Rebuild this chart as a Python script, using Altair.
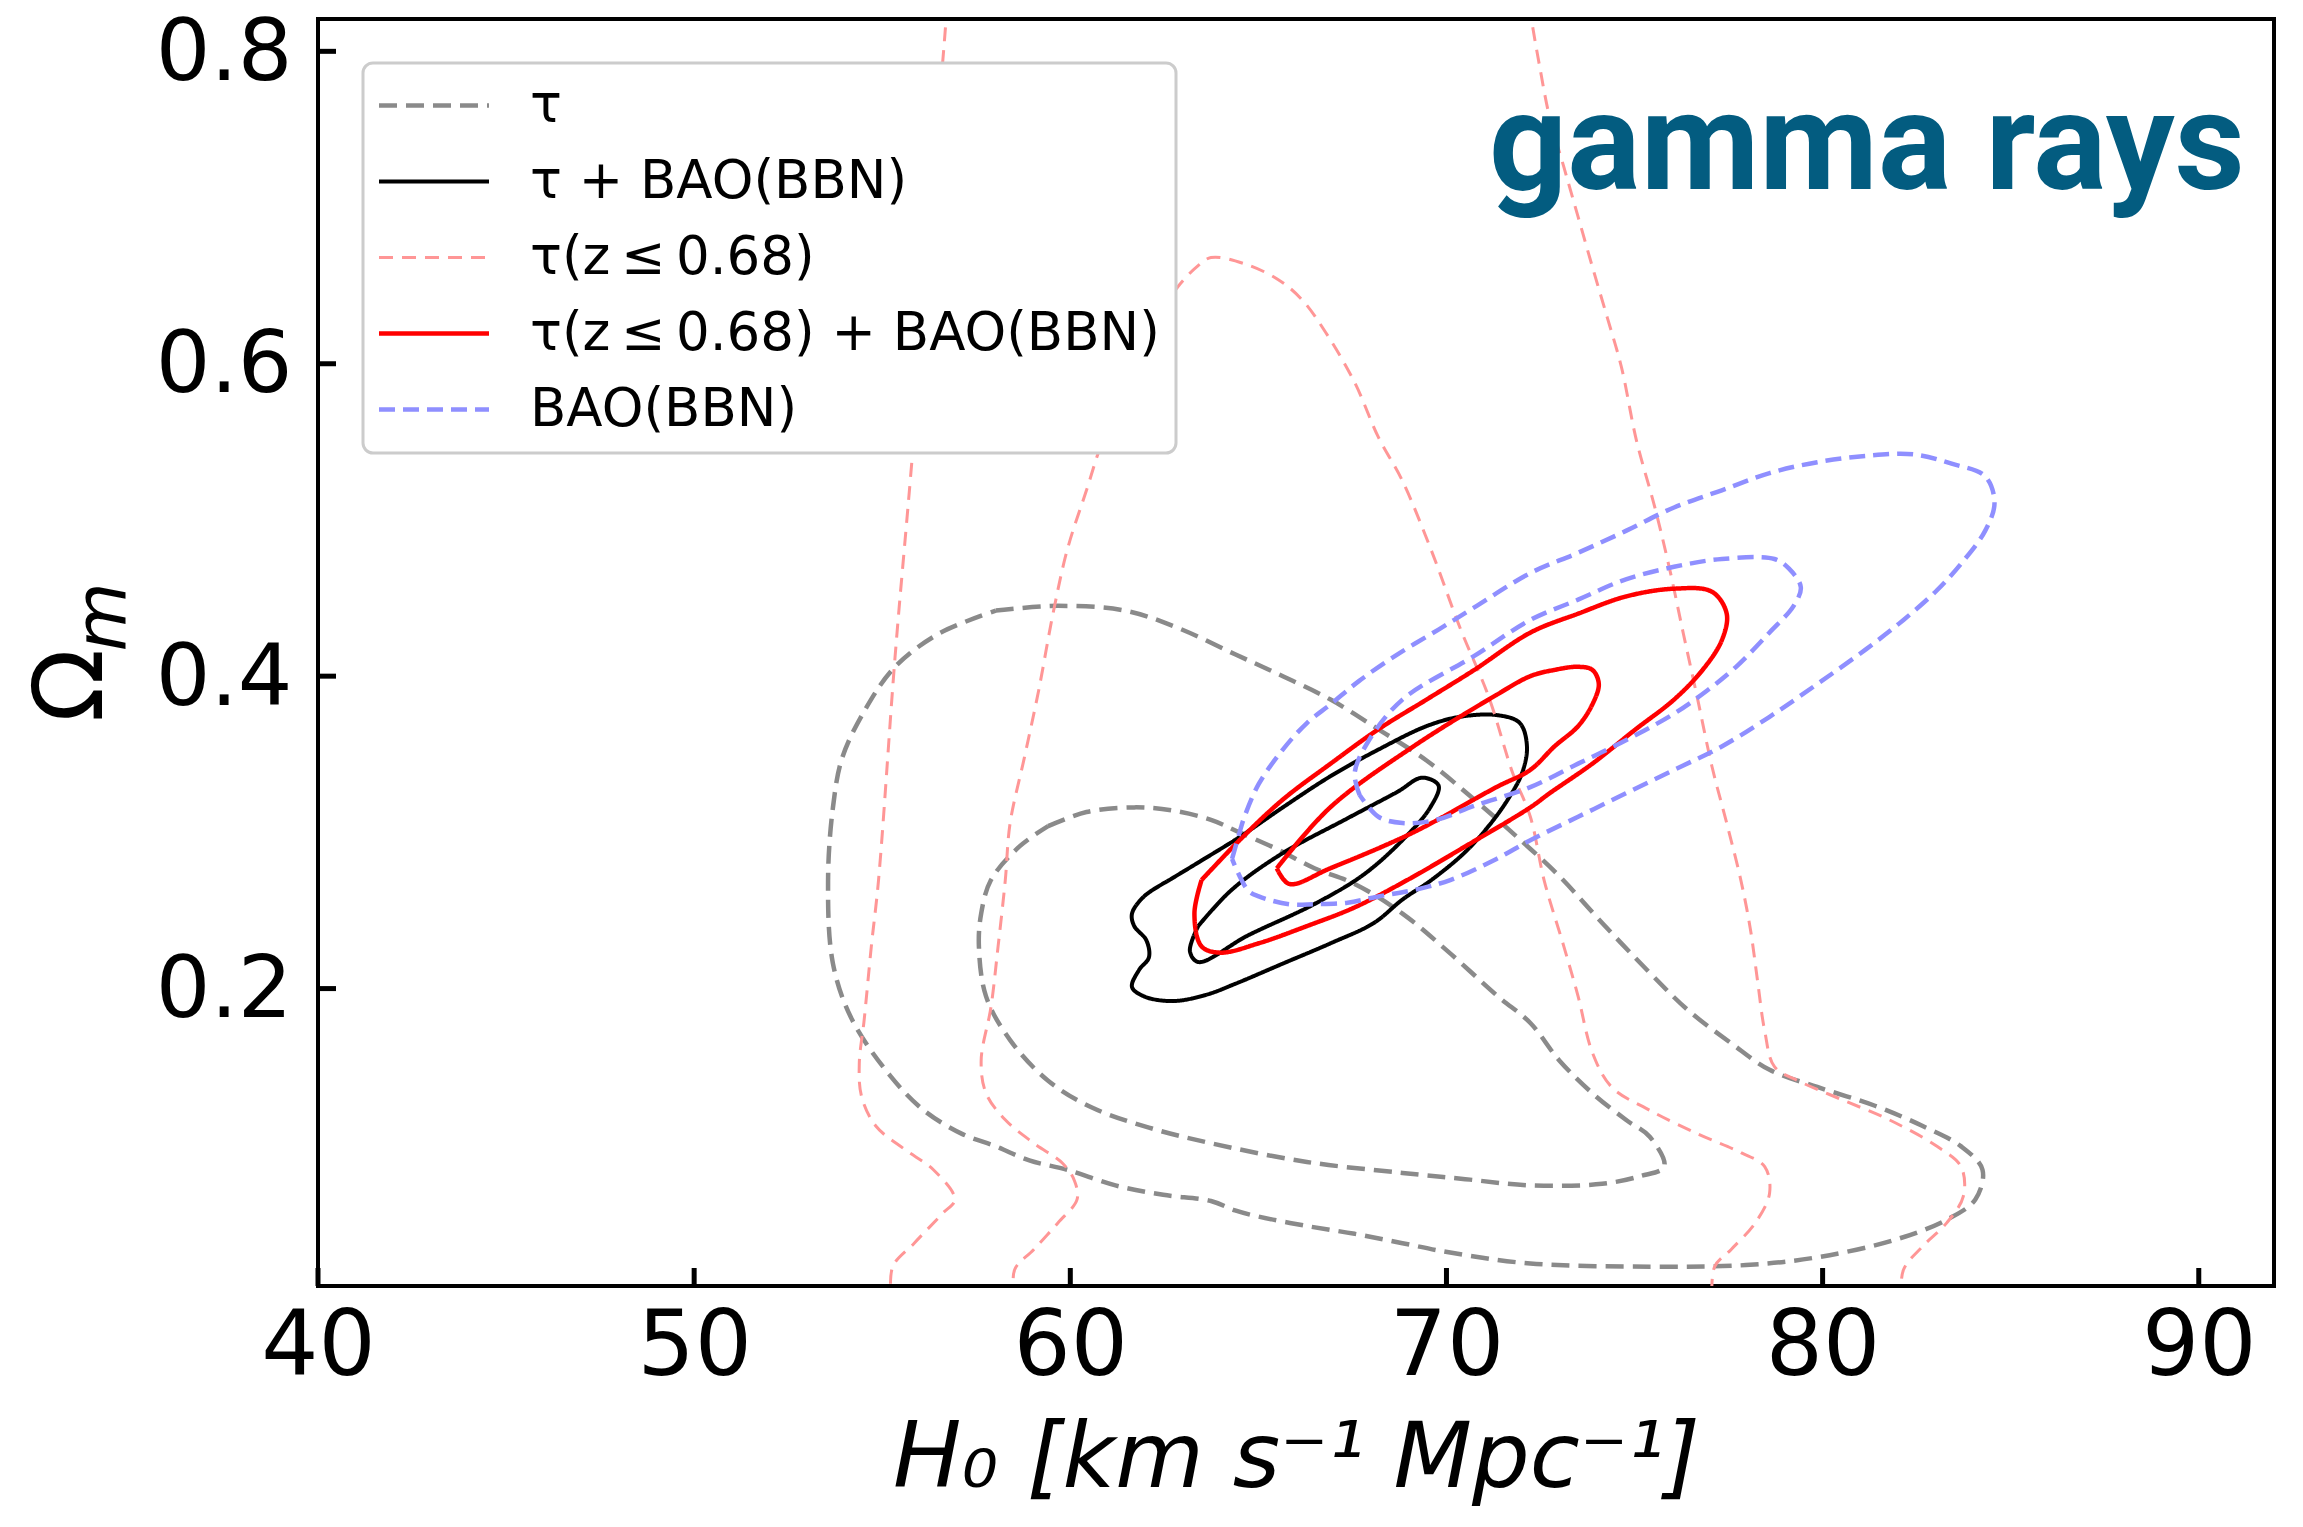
import altair as alt
import pandas as pd

# ---------------- axis / labels ----------------
x_ticks = [40, 50, 60, 70, 80, 90]
y_ticks = [0.2, 0.4, 0.6, 0.8]
x_domain = [40, 92]
y_domain = [0.0096, 0.8207]
x_title = "H₀  [km s⁻¹ Mpc⁻¹]"
y_title = "Ω"
y_title_sub = ["m"]
title_text = ["gamma rays"]

series_names = ["τ", "τ + BAO(BBN)", "τ(z\u2009≤\u20090.68)", "τ(z\u2009≤\u20090.68) + BAO(BBN)", "BAO(BBN)"]
series_colors = ["#8a8a8a", "#000000", "#ff9696", "#ff0000", "#8f8fff"]
series_dashes = [[18, 9], [1, 0], [14, 9], [1, 0], [16, 8]]
series_widths = [4.5, 4, 3, 4.5, 4.5]

# ---------------- contours (H0, Omega_m) ----------------
tau_outer = [(58.02, 0.442), (59.67, 0.445), (61.45, 0.442), (62.85, 0.431), (64.38, 0.414), (65.65, 0.400),
             (66.92, 0.385), (68.19, 0.366), (69.47, 0.346), (70.74, 0.321), (71.88, 0.297), (73.0, 0.272),
             (74.14, 0.242), (75.41, 0.210), (76.43, 0.186), (77.57, 0.165), (78.59, 0.148), (79.86, 0.137),
             (81.39, 0.125), (82.66, 0.112), (83.68, 0.099), (84.25, 0.084), (84.06, 0.065), (83.3, 0.052),
             (81.9, 0.039), (79.86, 0.028), (77.96, 0.023), (75.41, 0.022), (72.23, 0.024), (70.1, 0.031),
             (68.83, 0.037), (67.56, 0.043), (66.29, 0.048), (65.01, 0.054), (64.38, 0.058), (63.74, 0.064),
             (62.47, 0.068), (61.2, 0.074), (59.92, 0.084), (58.91, 0.090), (58.02, 0.099), (57.12, 0.107),
             (56.11, 0.122), (55.22, 0.144), (54.2, 0.180), (53.69, 0.216), (53.56, 0.269), (53.69, 0.316),
             (53.94, 0.348), (54.58, 0.380), (55.34, 0.406), (56.49, 0.427), (58.02, 0.442)]
tau_inner = [(59.41, 0.304), (60.43, 0.313), (61.7, 0.316), (62.72, 0.314), (63.74, 0.308), (64.5, 0.300),
             (65.52, 0.289), (66.49, 0.277), (67.56, 0.267), (68.83, 0.248), (70.03, 0.224), (71.37, 0.195),
             (72.23, 0.178), (73.0, 0.154), (73.88, 0.133), (74.77, 0.116), (75.41, 0.105), (75.79, 0.086),
             (75.16, 0.080), (74.14, 0.075), (72.23, 0.074), (70.5, 0.078), (68.83, 0.082), (66.29, 0.089),
             (63.74, 0.101), (62.09, 0.111), (60.56, 0.124), (59.41, 0.141), (58.4, 0.167), (57.76, 0.195),
             (57.57, 0.227), (57.63, 0.248), (57.89, 0.2695), (58.65, 0.291), (59.41, 0.304)]
taubao_outer = [(62.6, 0.269), (63.49, 0.282), (64.5, 0.297), (65.65, 0.316), (66.92, 0.336), (68.19, 0.353),
                (69.47, 0.368), (70.36, 0.374), (71.37, 0.375), (71.95, 0.370), (72.14, 0.355), (72.01, 0.338),
                (71.63, 0.321), (71.12, 0.304), (70.48, 0.287), (69.6, 0.2695), (68.83, 0.257), (68.07, 0.242),
                (66.92, 0.229), (65.65, 0.216), (64.38, 0.203), (63.61, 0.196), (62.72, 0.192), (61.96, 0.195),
                (61.64, 0.201), (61.83, 0.212), (62.09, 0.220), (62.02, 0.231), (61.7, 0.240), (61.64, 0.248),
                (61.96, 0.259), (62.6, 0.269)]
taubao_inner = [(63.4, 0.240), (64.28, 0.263), (65.6, 0.286), (67.37, 0.309), (68.7, 0.326), (69.35, 0.335),
                (69.79, 0.330), (69.57, 0.316), (68.91, 0.297), (67.8, 0.273), (66.48, 0.254), (64.72, 0.234),
                (63.4, 0.217), (63.18, 0.224), (63.4, 0.240)]
taulow_left = [(56.72, 0.83), (56.68, 0.815), (56.23, 0.684), (55.85, 0.556), (55.34, 0.412), (54.9, 0.269),
               (54.71, 0.227), (54.52, 0.180), (54.39, 0.152), (54.45, 0.131), (54.83, 0.112), (55.6, 0.097),
               (56.36, 0.084), (56.93, 0.065), (56.6, 0.056), (55.85, 0.037), (55.28, 0.022), (55.24, 0.0)]
taulow_inner = [(58.52, 0.0), (58.52, 0.020), (59.03, 0.033), (59.67, 0.050), (60.18, 0.065), (60.11, 0.077),
                (59.8, 0.088), (59.03, 0.101), (58.27, 0.116), (57.76, 0.133), (57.63, 0.154), (57.89, 0.188),
                (58.08, 0.227), (58.27, 0.269), (58.4, 0.306), (58.78, 0.348), (59.16, 0.391), (59.54, 0.440),
                (59.92, 0.481), (60.43, 0.519), (60.9, 0.553), (61.83, 0.598), (62.47, 0.635), (62.85, 0.649),
                (63.36, 0.662), (63.74, 0.668), (64.63, 0.664), (65.52, 0.654), (66.16, 0.641), (66.79, 0.620),
                (67.56, 0.588), (68.19, 0.553), (68.83, 0.525), (69.59, 0.481), (70.36, 0.431), (71.12, 0.387),
                (71.76, 0.338), (72.23, 0.310), (72.6, 0.269), (73.12, 0.227), (73.5, 0.195), (73.88, 0.159),
                (74.39, 0.137), (75.41, 0.122), (76.68, 0.107), (77.83, 0.095), (78.46, 0.086), (78.59, 0.069),
                (78.21, 0.050), (77.57, 0.033), (77.13, 0.022), (77.06, 0.0)]
taulow_right = [(72.2, 0.83), (72.29, 0.816), (72.48, 0.790), (72.74, 0.758), (73.12, 0.726), (73.5, 0.694),
                (73.88, 0.662), (74.27, 0.630), (74.65, 0.598), (75.05, 0.551), (75.54, 0.508), (75.92, 0.470),
                (76.3, 0.427), (76.68, 0.385), (77.06, 0.342), (77.45, 0.306), (77.83, 0.269), (78.08, 0.238),
                (78.27, 0.205), (78.46, 0.173), (78.72, 0.150), (79.35, 0.141), (80.5, 0.129), (81.77, 0.116),
                (83.04, 0.099), (83.68, 0.086), (83.74, 0.067), (83.3, 0.050), (82.66, 0.035), (82.15, 0.020),
                (82.09, 0.0)]
taulowbao_outer = [(63.49, 0.2695), (64.5, 0.295), (65.65, 0.321), (66.92, 0.344), (68.19, 0.366), (69.47, 0.385),
                   (70.74, 0.404), (72.24, 0.428), (73.5, 0.440), (74.77, 0.451), (76.05, 0.456), (77.06, 0.454),
                   (77.45, 0.440), (77.32, 0.423), (76.81, 0.404), (76.05, 0.385), (75.03, 0.366), (73.88, 0.344),
                   (72.74, 0.325), (72.23, 0.316), (70.5, 0.291), (68.96, 0.2695), (67.56, 0.252), (66.29, 0.240),
                   (65.01, 0.229), (63.99, 0.223), (63.49, 0.227), (63.3, 0.248), (63.49, 0.2695)]
taulowbao_inner = [(65.49, 0.277), (66.91, 0.316), (69.12, 0.355), (71.33, 0.388), (72.23, 0.400), (72.87, 0.404),
                   (73.5, 0.406), (73.88, 0.404), (74.05, 0.395), (73.88, 0.382), (73.5, 0.368), (72.87, 0.355),
                   (72.23, 0.340), (71.33, 0.329), (69.12, 0.300), (66.91, 0.277), (65.82, 0.267), (65.49, 0.277)]
bao_outer = [(64.3, 0.283), (64.5, 0.300), (64.63, 0.310), (65.01, 0.331), (65.65, 0.353), (66.29, 0.370),
             (66.92, 0.382), (67.68, 0.397), (68.7, 0.414), (69.8, 0.430), (70.74, 0.444), (72.23, 0.466),
             (73.5, 0.479), (74.77, 0.493), (76.05, 0.508), (77.32, 0.519), (78.59, 0.530), (79.86, 0.537),
             (81.14, 0.541), (82.41, 0.542), (83.43, 0.536), (84.32, 0.528), (84.57, 0.511), (84.32, 0.493),
             (83.68, 0.472), (83.04, 0.455), (82.15, 0.436), (81.14, 0.417), (79.86, 0.395), (78.59, 0.374),
             (77.32, 0.355), (76.05, 0.340), (74.77, 0.325), (73.5, 0.310), (72.23, 0.295), (71.33, 0.283),
             (70.1, 0.2695), (69.12, 0.263), (68.19, 0.259), (67.37, 0.255), (66.5, 0.254), (65.82, 0.254),
             (65.01, 0.259), (64.72, 0.263), (64.3, 0.283)]
bao_inner = [(67.69, 0.324), (67.56, 0.338), (67.94, 0.359), (68.83, 0.385), (70.74, 0.413), (72.23, 0.436),
             (73.5, 0.449), (74.77, 0.462), (76.05, 0.470), (77.32, 0.475), (78.72, 0.475), (79.1, 0.469),
             (79.42, 0.457), (79.23, 0.445), (78.59, 0.428), (77.7, 0.406), (76.94, 0.391), (76.05, 0.376),
             (74.77, 0.359), (73.5, 0.344), (72.23, 0.329), (70.74, 0.317), (69.72, 0.308), (68.83, 0.306),
             (68.19, 0.310), (67.69, 0.324)]

contours = [
    (series_names[0], "tau_outer", tau_outer),
    (series_names[0], "tau_inner", tau_inner),
    (series_names[1], "taubao_outer", taubao_outer),
    (series_names[1], "taubao_inner", taubao_inner),
    (series_names[2], "taulow_left", taulow_left),
    (series_names[2], "taulow_inner", taulow_inner),
    (series_names[2], "taulow_right", taulow_right),
    (series_names[3], "taulowbao_outer", taulowbao_outer),
    (series_names[3], "taulowbao_inner", taulowbao_inner),
    (series_names[4], "bao_outer", bao_outer),
    (series_names[4], "bao_inner", bao_inner),
]

rows = []
for s, cid, pts in contours:
    for i, (h, o) in enumerate(pts):
        rows.append({"series": s, "cid": cid, "i": i, "H0": h, "Om": o})
df = pd.DataFrame(rows)

W, H = 1956, 1267
FONT = "DejaVu Sans"

xs = alt.Scale(domain=x_domain, nice=False, zero=False)
ys = alt.Scale(domain=y_domain, nice=False, zero=False)

xaxis = alt.Axis(values=x_ticks, title=x_title, titleFont=FONT, titleFontStyle="italic",
                 titleFontWeight="normal", titleFontSize=91, titlePadding=22, titleColor="black",
                 labelFont=FONT, labelFontSize=90, labelPadding=17, labelColor="black",
                 labelFlush=False, ticks=False, domain=False, grid=False)
yaxis = alt.Axis(values=y_ticks, title=y_title, titleFont=FONT, titleFontWeight="normal",
                 titleFontSize=96, titleColor="black", titleAngle=270, titleX=-246, titleY=666,
                 titleAlign="center", titleBaseline="middle", format=".1f",
                 labelFont=FONT, labelFontSize=86, labelPadding=26, labelColor="black", labelOffset=2,
                 labelFlush=False, ticks=False, domain=False, grid=False)

# legend symbol: a horizontal stroke drawn 110 px long while the legend entry stays compact
legend = alt.Legend(title=None, orient="none", legendX=45, legendY=44, direction="vertical",
                    fillColor="white", strokeColor="#cccccc", cornerRadius=10, padding=16,
                    labelFont=FONT, labelFontSize=53, labelColor="black", labelLimit=2000,
                    labelOffset=98, rowPadding=22, symbolType="M-1.325,0H4.175", symbolSize=1600,
                    symbolStrokeWidth=7, symbolFillColor="transparent")

color = alt.Color("series:N", scale=alt.Scale(domain=series_names, range=series_colors), legend=legend)
dash = alt.StrokeDash("series:N", scale=alt.Scale(domain=series_names, range=series_dashes), legend=legend)
width = alt.StrokeWidth("series:N", scale=alt.Scale(type="ordinal", domain=series_names, range=series_widths),
                        legend=None)

lines = alt.Chart(df).mark_line(clip=True, strokeCap="butt", strokeJoin="round",
                                interpolate="catmull-rom").encode(
    x=alt.X("H0:Q", scale=xs, axis=xaxis),
    y=alt.Y("Om:Q", scale=ys, axis=yaxis),
    color=color, strokeDash=dash, strokeWidth=width,
    detail="cid:N", order="i:Q")

xt = alt.Chart(pd.DataFrame({"v": x_ticks})).mark_rule(color="black", strokeWidth=5).encode(
    x=alt.X("v:Q", scale=xs, axis=xaxis), y=alt.value(H), y2=alt.value(H - 18))
yt = alt.Chart(pd.DataFrame({"v": y_ticks})).mark_rule(color="black", strokeWidth=5).encode(
    y=alt.Y("v:Q", scale=ys, axis=yaxis), x=alt.value(0), x2=alt.value(18))

# subscript m of the y-axis title
msub = alt.Chart(pd.DataFrame({"t": y_title_sub})).mark_text(
    font=FONT, fontStyle="italic", fontSize=71, angle=270, align="center", baseline="middle",
    color="black").encode(text="t:N", x=alt.value(-214), y=alt.value(598))

tdf = pd.DataFrame({"t": title_text})
title = alt.Chart(tdf).mark_text(font="Roboto", fontWeight="bold", fontSize=137,
                                 align="right", baseline="alphabetic", color="#035c80").encode(
    text="t:N", x=alt.value(1927), y=alt.value(170))

chart = alt.layer(lines, xt, yt, msub, title).properties(
    width=W, height=H,
    autosize=alt.AutoSizeParams(type="none"),
    padding={"left": 310, "top": 11, "right": 21, "bottom": 240},
    background="white",
).configure_view(stroke="black", strokeWidth=4).configure_legend(
    strokeWidth=3, symbolStrokeWidth=7)

chart.save("out.html", embed_options={"renderer": "svg", "actions": False})
